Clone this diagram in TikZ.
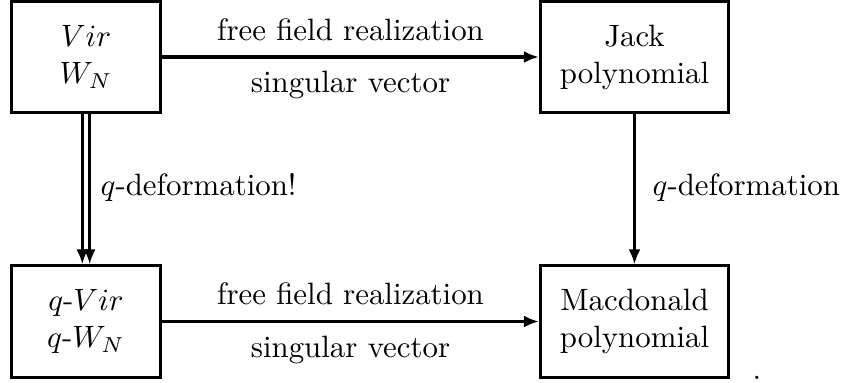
\documentclass[tikz,border=0pt]{standalone}
\usetikzlibrary{arrows.meta}
\tikzset{
  boxnode/.style={draw, line width=1pt, align=center, inner sep=0pt,
    minimum height=36pt},
  conn/.style={line width=1pt, -{Latex[length=4.9pt,width=3.9pt]}},
  lbl/.style={inner sep=0pt, anchor=base},
  lblw/.style={inner sep=0pt, anchor=base west}
}
\begin{document}
\begin{tikzpicture}[x=0.324pt,y=-0.324pt]
\useasboundingbox (0,0) rectangle (844,383);
\node[boxnode, minimum width=48.3pt] (tl) at (86,57) {$Vir$\\$W_N$};
\node[boxnode, minimum width=60.9pt] (tr) at (634.5,57) {Jack\\polynomial};
\node[boxnode, minimum width=48.3pt] (bl) at (86,321.5) {$q$-$Vir$\\$q$-$W_N$};
\node[boxnode, minimum width=60.9pt] (br) at (634.5,321.5) {Macdonald\\polynomial};
\draw[conn] (tl.east) -- (tr.west);
\draw[conn] (bl.east) -- (br.west);
\draw[conn] ([xshift=-1.2pt]tl.south) -- ([xshift=-1.2pt]bl.north);
\draw[conn] ([xshift=1.2pt]tl.south) -- ([xshift=1.2pt]bl.north);
\draw[conn] (tr.south) -- (br.north);
\node[lbl] (t1) at (350.5,40) {free field realization};
\node[lbl] (t2) at (350.5,93) {singular vector};
\node[lbl] (b1) at (350.5,304) {free field realization};
\node[lbl] (b2) at (350.5,357) {singular vector};
\node[lblw] (ql) at (100,195) {$q$-deformation!};
\node[lblw] (qr) at (652,195) {$q$-deformation};
\node[lblw] (dot) at (752,379) {.};
\end{tikzpicture}
\end{document}
